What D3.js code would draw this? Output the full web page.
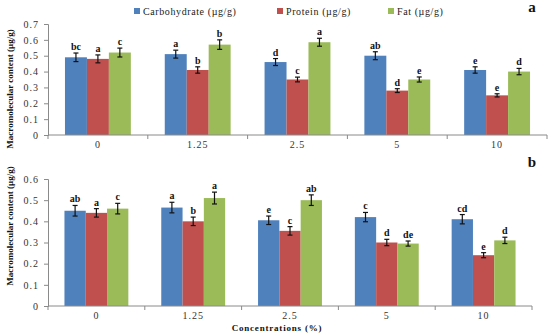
<!DOCTYPE html>
<html lang="en">
<head>
<meta charset="utf-8">
<title>Macromolecular content</title>
<script src="https://d3js.org/d3.v7.min.js"></script>
<style>
  body { margin: 0; background: #fff; }
  text { font-family: "Liberation Serif", "Times New Roman", serif; }
</style>
</head>
<body>
<script>
var w = 550, h = 334;

var categories = ["0", "1.25", "2.5", "5", "10"];
var seriesNames = ["Carbohydrate (\u00b5g/g)", "Protein (\u00b5g/g)", "Fat (\u00b5g/g)"];
var colors = ["#4F81BD", "#C0504D", "#9BBB59"];

// panel a
var carbA = [0.49, 0.51, 0.46, 0.50, 0.41];
var protA = [0.48, 0.41, 0.35, 0.28, 0.25];
var fatA = [0.52, 0.57, 0.585, 0.35, 0.40];
var carbErrA = [0.027, 0.025, 0.022, 0.025, 0.02];
var protErrA = [0.025, 0.02, 0.015, 0.012, 0.01];
var fatErrA = [0.028, 0.03, 0.025, 0.016, 0.02];
var lettersA = [["bc", "a", "c"], ["a", "b", "b"], ["d", "c", "a"], ["ab", "d", "e"], ["e", "e", "d"]];
var ticksA = [0, 0.1, 0.2, 0.3, 0.4, 0.5, 0.6, 0.7];

// panel b
var carbB = [0.45, 0.465, 0.405, 0.42, 0.41];
var protB = [0.44, 0.40, 0.355, 0.30, 0.24];
var fatB = [0.46, 0.51, 0.50, 0.295, 0.31];
var carbErrB = [0.025, 0.025, 0.02, 0.022, 0.022];
var protErrB = [0.02, 0.02, 0.02, 0.015, 0.012];
var fatErrB = [0.025, 0.028, 0.025, 0.012, 0.015];
var lettersB = [["ab", "a", "c"], ["a", "b", "a"], ["e", "c", "ab"], ["c", "d", "de"], ["cd", "e", "d"]];
var ticksB = [0, 0.1, 0.2, 0.3, 0.4, 0.5, 0.6];

var svg = d3.select("body").append("svg").attr("width", w).attr("height", h);

function drawPanel(p) {
  var g = svg.append("g");
  var x = d3.scaleBand().domain(categories).range([p.x0, p.x1]).padding(0);
  var bw = x.bandwidth();
  var xs = d3.scaleBand().domain([0, 1, 2]).range([bw * 0.17, bw * 0.83]).padding(0);
  var y = d3.scaleLinear().domain([0, p.max]).range([p.y0, p.y1]);

  var rows = [];
  categories.forEach(function (c, i) {
    for (var s = 0; s < 3; s++) {
      rows.push({ cat: c, s: s, v: p.vals[s][i], e: p.errs[s][i], l: p.letters[i][s] });
    }
  });

  // y axis
  var ya = g.append("g").attr("transform", "translate(" + p.x0 + ",0)")
    .call(d3.axisLeft(y).tickValues(p.ticks).tickSize(4).tickPadding(5)
      .tickFormat(function (d) { return d === 0 ? "0" : d3.format(".1f")(d); }));
  ya.select(".domain").attr("stroke", "#8a8a8a");
  ya.selectAll(".tick line").attr("stroke", "#8a8a8a");
  ya.selectAll(".tick text").attr("font-size", 10).attr("fill", "#333")
    .attr("letter-spacing", "1px").style("font-family", "Liberation Serif");

  // bars
  g.selectAll("rect.bar").data(rows).enter().append("rect")
    .attr("x", function (d) { return x(d.cat) + xs(d.s); })
    .attr("width", xs.bandwidth())
    .attr("y", function (d) { return y(d.v); })
    .attr("height", function (d) { return y(0) - y(d.v); })
    .attr("fill", function (d) { return colors[d.s]; });

  // error bars
  var eb = g.selectAll("g.err").data(rows).enter().append("g")
    .attr("stroke", "#111").attr("stroke-width", 1.2);
  eb.append("line")
    .attr("x1", function (d) { return x(d.cat) + xs(d.s) + xs.bandwidth() / 2; })
    .attr("x2", function (d) { return x(d.cat) + xs(d.s) + xs.bandwidth() / 2; })
    .attr("y1", function (d) { return y(d.v - d.e); })
    .attr("y2", function (d) { return y(d.v + d.e); });
  [-1, 1].forEach(function (k) {
    eb.append("line")
      .attr("x1", function (d) { return x(d.cat) + xs(d.s) + xs.bandwidth() / 2 - 2.5; })
      .attr("x2", function (d) { return x(d.cat) + xs(d.s) + xs.bandwidth() / 2 + 2.5; })
      .attr("y1", function (d) { return y(d.v + k * d.e); })
      .attr("y2", function (d) { return y(d.v + k * d.e); });
  });

  // letters
  g.selectAll("text.lbl").data(rows).enter().append("text")
    .attr("x", function (d) { return x(d.cat) + xs(d.s) + xs.bandwidth() / 2; })
    .attr("y", function (d) { return y(d.v + d.e) - 3; })
    .attr("text-anchor", "middle").attr("font-size", 10).attr("font-weight", "bold")
    .attr("fill", "#111").text(function (d) { return d.l; });

  // x axis
  var xa = g.append("g").attr("transform", "translate(0," + p.y0 + ")");
  xa.append("line").attr("x1", p.x0).attr("x2", p.x1).attr("stroke", "#8a8a8a");
  var edges = categories.map(function (c) { return x(c); }).concat([p.x1]);
  xa.selectAll("line.tk").data(edges).enter().append("line")
    .attr("x1", function (d) { return d; }).attr("x2", function (d) { return d; })
    .attr("y1", 0).attr("y2", 4).attr("stroke", "#8a8a8a");
  xa.selectAll("text").data(categories).enter().append("text")
    .attr("x", function (c) { return x(c) + bw / 2; })
    .attr("y", 13).attr("text-anchor", "middle").attr("font-size", 10)
    .attr("letter-spacing", "1px").attr("fill", "#333").text(function (c) { return c; });

  // y label
  svg.append("text")
    .attr("transform", "translate(13," + p.labelY + ") rotate(-90)")
    .attr("text-anchor", "middle").attr("font-size", 9).attr("font-weight", "bold")
    .attr("fill", "#111").text("Macromolecular  content  (\u00b5g/g)");

  // panel letter
  svg.append("text").attr("x", 532).attr("y", p.tagY).attr("text-anchor", "middle")
    .attr("font-size", 15).attr("font-weight", "bold").attr("fill", "#111").text(p.tag);
}

drawPanel({ x0: 48, x1: 547, y0: 135, y1: 24, max: 0.7, ticks: ticksA,
  vals: [carbA, protA, fatA], errs: [carbErrA, protErrA, fatErrA], letters: lettersA,
  labelY: 89, tag: "a", tagY: 12 });
drawPanel({ x0: 48, x1: 532, y0: 306, y1: 179, max: 0.6, ticks: ticksB,
  vals: [carbB, protB, fatB], errs: [carbErrB, protErrB, fatErrB], letters: lettersB,
  labelY: 226, tag: "b", tagY: 167 });

// legend
var legX = [134, 277, 388];
var leg = svg.append("g").selectAll("g").data(seriesNames).enter().append("g")
  .attr("transform", function (d, i) { return "translate(" + legX[i] + ",11)"; });
leg.append("rect").attr("x", 0).attr("y", -3).attr("width", 6).attr("height", 6)
  .attr("fill", function (d, i) { return colors[i]; });
leg.append("text").attr("x", 9).attr("y", 3.5).attr("font-size", 10)
  .attr("letter-spacing", "0.6px").attr("fill", "#222").text(function (d) { return d; });

// x title
svg.append("text").attr("x", 277).attr("y", 331).attr("text-anchor", "middle")
  .attr("font-size", 9).attr("font-weight", "bold").attr("letter-spacing", "0.8px")
  .attr("fill", "#111").text("Concentrations  (%)");
</script>
</body>
</html>
